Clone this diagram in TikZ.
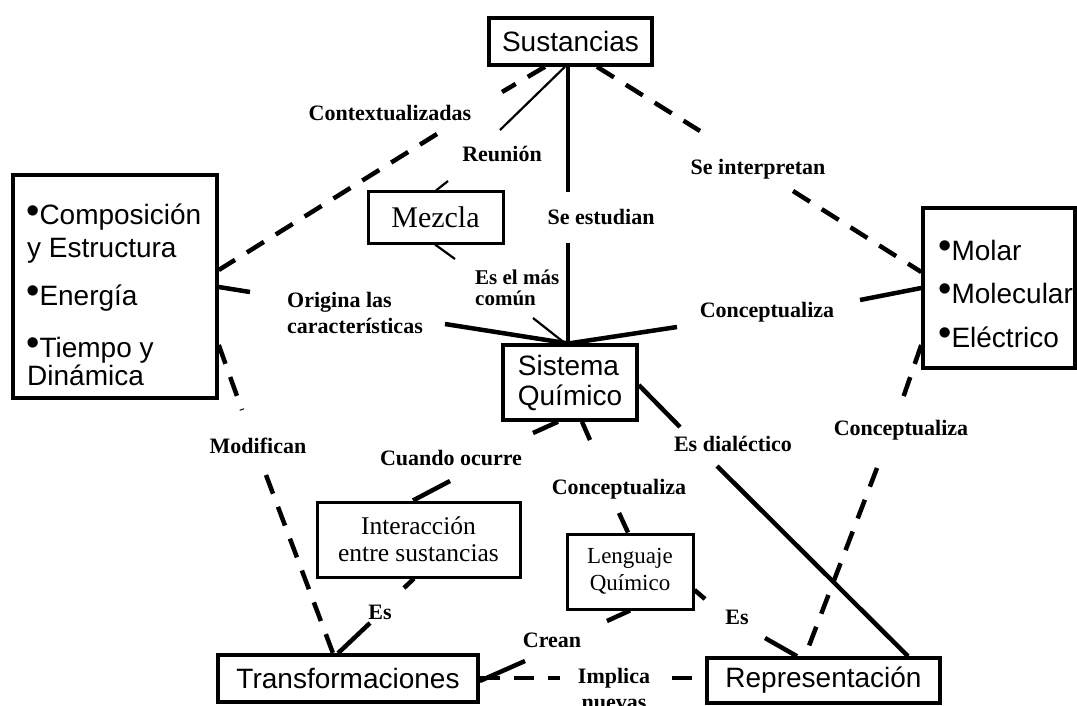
\documentclass[tikz,border=0pt]{standalone}
\usepackage{fontspec}
\setmainfont{Liberation Serif}
\setsansfont{Liberation Sans}
\newcommand\itembullet{\smash{\fontsize{38}{38}\selectfont\raisebox{1.5pt}{•}}}
\begin{document}
\begin{tikzpicture}[x=1pt,y=-1pt,
  concept/.style={draw, line width=3.5pt, inner sep=0pt, align=center,
    font=\sffamily\fontsize{28}{30}\selectfont},
  sconcept/.style={draw, line width=3pt, inner sep=0pt, align=center},
  listbox/.style={draw, line width=3.5pt, inner sep=0pt},
  entry/.style={inner sep=0pt, anchor=base west,
    font=\sffamily\fontsize{28}{30}\selectfont},
  lbl/.style={inner sep=0pt, anchor=base,
    font=\rmfamily\bfseries\fontsize{22}{26}\selectfont},
  link/.style={line width=4.5pt},
  thinlink/.style={line width=2.2pt},
  dlink/.style={line width=4.5pt, dash pattern=on 20pt off 14pt},
]
\fill[white] (0,0) rectangle (1077,706);
\useasboundingbox (0,0) rectangle (1077,706);
\clip (0,0) rectangle (1077,706);

% concepts
\node[concept, minimum width=163pt, minimum height=47pt] (sus) at (570.5,41.5) {Sustancias};
\node[concept, minimum width=134pt, minimum height=75pt, align=left] (sis) at (570,382.5) {Sistema\\Químico};
\node[concept, minimum width=260pt, minimum height=47pt] (trans) at (348,678.5) {Transformaciones};
\node[concept, minimum width=233pt, minimum height=45pt] (rep) at (823.5,680.5) {Representación};
\node[sconcept, minimum width=135pt, minimum height=51pt,
  font=\rmfamily\fontsize{30}{30}\selectfont] (mez) at (435.5,217.5) {Mezcla};
\node[sconcept, minimum width=203pt, minimum height=75pt,
  font=\rmfamily\fontsize{25.5}{27}\selectfont] (inter) at (418.5,539.5) {Interacción\\entre sustancias};
\node[sconcept, minimum width=126pt, minimum height=75pt,
  font=\rmfamily\fontsize{23}{27}\selectfont] (leng) at (630,571.5) {Lenguaje\\Químico};

% list boxes
\node[listbox, minimum width=204pt, minimum height=223pt] (props) at (115,286.5) {};
\node[entry] (pA) at (26,225) {\itembullet Composición};
\node[entry] (pB) at (27,257) {y Estructura};
\node[entry] (pC) at (26,305) {\itembullet Energía};
\node[entry] (pD) at (26,357) {\itembullet Tiempo y};
\node[entry] (pE) at (27,385) {Dinámica};

\node[listbox, minimum width=152pt, minimum height=160pt] (lev) at (999,288) {};
\node[entry] (lA) at (938,260) {\itembullet Molar};
\node[entry] (lB) at (938,303) {\itembullet Molecular};
\node[entry] (lC) at (938,347) {\itembullet Eléctrico};

% linking phrases (two-line ones are placed by their last line)
\node[lbl] (tCon) at (390,121) {Contextualizadas};
\node[lbl] (tReu) at (502,162) {Reunión};
\node[lbl] (tEst) at (601,224) {Se estudian};
\node[lbl] (tInt) at (758,175) {Se interpretan};
\node[lbl] (tCo1) at (767,317) {Conceptualiza};
\node[lbl, anchor=base west, align=left, font=\rmfamily\bfseries\fontsize{21}{21}\selectfont] (tCom) at (475,305) {Es el más\\común};
\node[lbl, anchor=base west, align=left] (tOri) at (287,333) {Origina las\\características};
\node[lbl] (tMod) at (258,453) {Modifican};
\node[lbl] (tCua) at (451,465) {Cuando ocurre};
\node[lbl] (tCo2) at (619,494) {Conceptualiza};
\node[lbl] (tDia) at (733,451) {Es dialéctico};
\node[lbl] (tCo3) at (901,435) {Conceptualiza};
\node[lbl] (tEs1) at (380,619) {Es};
\node[lbl] (tEs2) at (737,624) {Es};
\node[lbl] (tCre) at (552,647) {Crean};
\node[lbl, align=center] (tImp) at (614,709) {Implica\\nuevas};

% ends of the line pieces on either side of each phrase
\coordinate (g1a) at (502,92);   \coordinate (g1b) at (437,134);
\coordinate (g2a) at (568,192);  \coordinate (g2b) at (568,243);
\coordinate (g3a) at (700,131);  \coordinate (g3b) at (793,191);
\coordinate (g4a) at (500,130);  \coordinate (g4b) at (448,181);
\coordinate (g5a) at (455,259);  \coordinate (g5b) at (533,318);
\coordinate (g6a) at (250,292);  \coordinate (g6b) at (445,324);
\coordinate (g7a) at (860,300);  \coordinate (g7b) at (677,327);
\coordinate (g8a) at (242,410);  \coordinate (g8b) at (266,475);
\coordinate (g9a) at (533,433);  \coordinate (g9b) at (450,481);
\coordinate (g10a) at (404,588); \coordinate (g10b) at (370,623);
\coordinate (g11a) at (590,440); \coordinate (g11b) at (619,513);
\coordinate (g12a) at (680,427); \coordinate (g12b) at (717,466);
\coordinate (g13a) at (903,398); \coordinate (g13b) at (877,468);
\coordinate (g14a) at (705,599); \coordinate (g14b) at (765,638);
\coordinate (g15a) at (607,621); \coordinate (g15b) at (525,661);
\coordinate (g16a) at (560,678); \coordinate (g16b) at (672,678);

% Sustancias
\draw[dlink] (sus.south -| 545,0) -- (g1a);  \draw[dlink] (g1b) -- (props.east |- 0,270);
\draw[link]  (sus.south -| 568,0) -- (g2a);  \draw[link]  (g2b) -- (sis.north -| 568,0);
\draw[dlink] (sus.south -| 597,0) -- (g3a);  \draw[dlink] (g3b) -- (lev.west |- 0,272);
\draw[thinlink] (sus.south -| 565,0) -- (g4a); \draw[thinlink] (g4b) -- (mez.north -| 436,0);
% towards Sistema Químico
\draw[thinlink] (mez.south -| 435,0) -- (g5a); \draw[thinlink] (g5b) -- (sis.north -| 565,0);
\draw[link]  (props.east |- 0,287) -- (g6a); \draw[link]  (g6b) -- (sis.north -| 567,0);
\draw[link]  (lev.west |- 0,288) -- (g7a);   \draw[link]  (g7b) -- (sis.north -| 570,0);
% lower part
\draw[dlink] (props.east |- 0,345) -- (g8a); \draw[dlink] (g8b) -- (trans.north -| 333,0);
\draw[link]  (sis.south -| 558,0) -- (g9a);  \draw[link]  (g9b) -- (inter.north -| 413,0);
\draw[link]  (inter.south -| 414,0) -- (g10a); \draw[link] (g10b) -- (trans.north -| 338,0);
\draw[link]  (sis.south -| 582,0) -- (g11a); \draw[link]  (g11b) -- (leng.north -| 628,0);
\draw[link]  (sis.east |- 0,385) -- (g12a);  \draw[link]  (g12b) -- (rep.north -| 908,0);
\draw[dlink] (lev.west |- 0,345) -- (g13a);  \draw[dlink] (g13b) -- (rep.north -| 805,0);
\draw[link]  (leng.east |- 0,590) -- (g14a); \draw[link]  (g14b) -- (rep.north -| 797,0);
\draw[link]  (leng.south -| 630,0) -- (g15a); \draw[link] (g15b) -- (trans.east |- 0,681);
\draw[dlink] (trans.east |- 0,678) -- (g16a); \draw[dlink] (g16b) -- (rep.west |- 0,678);
\end{tikzpicture}
\end{document}
